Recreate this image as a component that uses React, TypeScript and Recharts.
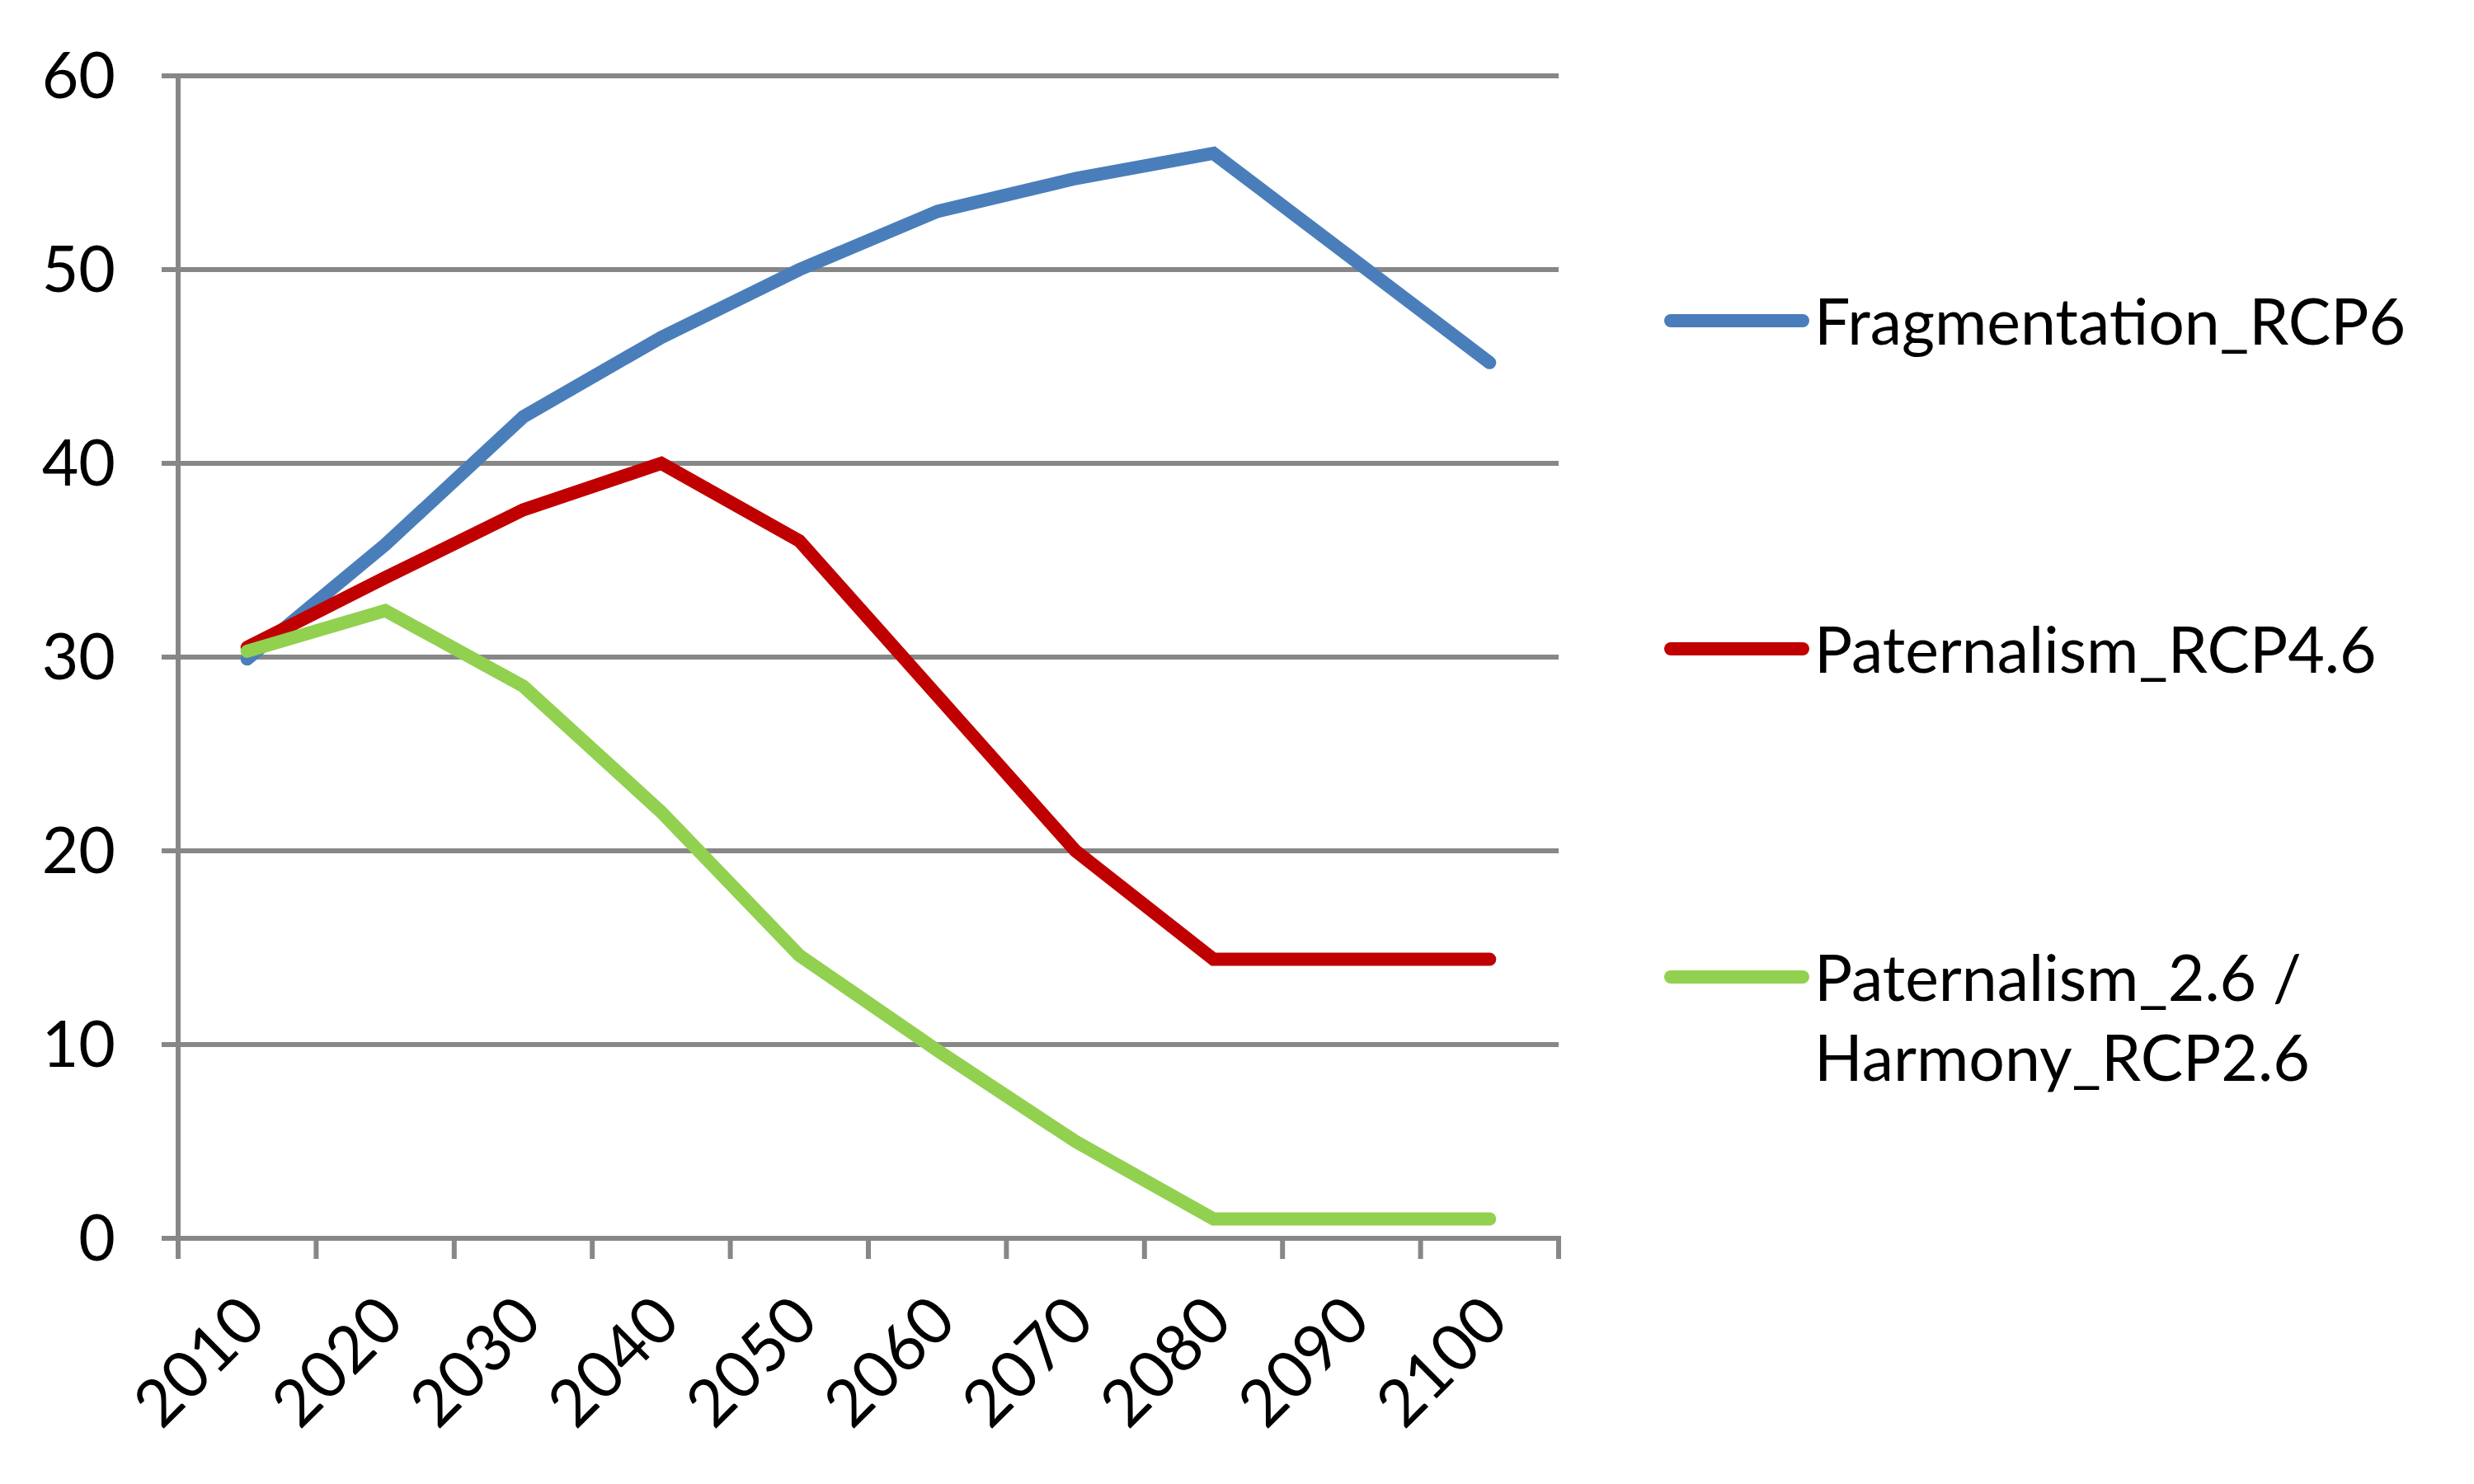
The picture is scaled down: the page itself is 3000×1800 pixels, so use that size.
import { LineChart, Line, XAxis, YAxis, CartesianGrid, Legend } from 'recharts'

const years = ['2010', '2020', '2030', '2040', '2050', '2060', '2070', '2080', '2090', '2100']
const fragmentation = [29.9, 35.8, 42.4, 46.5, 50.0, 53.0, 54.7, 56.0, 50.6, 45.2]
const paternalism46 = [30.5, 34.1, 37.6, 40.0, 36.0, 28.0, 20.0, 14.4, 14.4, 14.4]
const harmony26 = [30.3, 32.4, 28.5, 22.0, 14.6, 9.7, 5.0, 1.0, 1.0, 1.0]
const yTicks = [0, 10, 20, 30, 40, 50, 60]

const seriesNames = ['Fragmentation_RCP6', 'Paternalism_RCP4.6', 'Paternalism_2.6 / Harmony_RCP2.6']

const data = years.map((year, i) => ({
  year,
  frag: fragmentation[i],
  pat: paternalism46[i],
  harm: harmony26[i],
}))

const W = 3000
const H = 1800
const MARGIN = { top: 92, right: 1110, bottom: 0, left: 0 }
const Y_AXIS_W = 216
const X_AXIS_H = 298
const BAND = (W - MARGIN.left - MARGIN.right - Y_AXIS_W) / years.length

const GRAY = '#878787'
const FONT = 'Lato, "Noto Sans", sans-serif'
const FONT_SIZE = 77
const LINE_W = 16

const XTick = ({ x, y, payload, index }: any) => {
  const half = BAND / 2
  const tx = x + 26
  const ty = y + 104
  return (
    <g>
      <line x1={x - half} x2={x - half} y1={y} y2={y + 25} stroke={GRAY} strokeWidth={6} />
      {index === years.length - 1 && (
        <line x1={x + half} x2={x + half} y1={y - 3} y2={y + 25} stroke={GRAY} strokeWidth={6} />
      )}
      <text
        x={tx}
        y={ty}
        transform={`rotate(-45 ${tx} ${ty})`}
        textAnchor="end"
        fontSize={FONT_SIZE + 2}
        fontFamily={FONT}
        fill="#000"
      >
        {payload.value}
      </text>
    </g>
  )
}

const LegendContent = ({ payload }: any) => (
  <div style={{ fontFamily: FONT, fontSize: FONT_SIZE, color: '#000' }}>
    {payload.map((p: any) => (
      <div key={p.value} style={{ display: 'flex', alignItems: 'flex-start', height: 398 }}>
        <svg width={184} height={98} style={{ flexShrink: 0 }}>
          <line x1={10} x2={170} y1={49} y2={49} stroke={p.color} strokeWidth={LINE_W} strokeLinecap="round" />
        </svg>
        <div style={{ lineHeight: '97px', width: 760 }}>{p.value}</div>
      </div>
    ))}
  </div>
)

export default function App() {
  return (
    <div style={{ width: W, height: H, background: '#fff', fontFamily: FONT }}>
      <style>{'body{margin:0}'}</style>
      <LineChart width={W} height={H} data={data} margin={MARGIN}>
        <CartesianGrid vertical={false} stroke={GRAY} strokeWidth={6} />
        <XAxis
          dataKey="year"
          scale="band"
          height={X_AXIS_H}
          interval={0}
          tickLine={false}
          tickSize={0}
          tickMargin={0}
          axisLine={{ stroke: GRAY, strokeWidth: 6 }}
          tick={<XTick />}
        />
        <YAxis
          domain={[0, 60]}
          ticks={yTicks}
          width={Y_AXIS_W}
          tickSize={20}
          tickMargin={56}
          axisLine={{ stroke: GRAY, strokeWidth: 6 }}
          tickLine={{ stroke: GRAY, strokeWidth: 6 }}
          tick={{ fontSize: FONT_SIZE, fontFamily: FONT, fill: '#000' }}
        />
        <Legend
          layout="vertical"
          align="center"
          verticalAlign="middle"
          width={980}
          wrapperStyle={{ left: 2016, top: 340 }}
          itemSorter={(item: any) => seriesNames.indexOf(item.value)}
          content={<LegendContent />}
        />
        <Line dataKey="frag" name={seriesNames[0]} stroke="#4A7EBB" strokeWidth={LINE_W} dot={false} strokeLinecap="round" isAnimationActive={false} />
        <Line dataKey="pat" name={seriesNames[1]} stroke="#C00000" strokeWidth={LINE_W} dot={false} strokeLinecap="round" isAnimationActive={false} />
        <Line dataKey="harm" name={seriesNames[2]} stroke="#92D050" strokeWidth={LINE_W} dot={false} strokeLinecap="round" isAnimationActive={false} />
      </LineChart>
    </div>
  )
}
